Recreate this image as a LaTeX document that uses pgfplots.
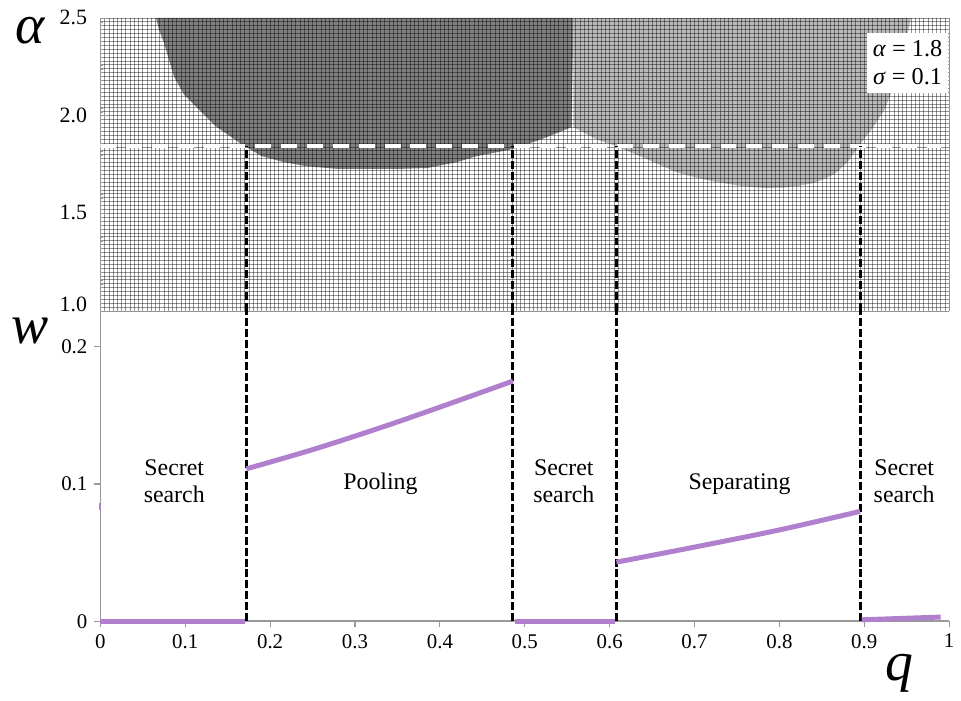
\documentclass[border=0pt]{standalone}
\usepackage{fontspec}
\setmainfont{Liberation Serif}
\usepackage{pgfplots}
\pgfplotsset{compat=1.18}
\definecolor{wline}{RGB}{176,128,206}
\definecolor{darkreg}{RGB}{128,128,128}
\definecolor{lightreg}{RGB}{186,186,186}
\begin{document}
\begin{tikzpicture}[x=1pt,y=1pt]
% ---------------- top panel ----------------
\begin{axis}[
  at={(50.5pt,196pt)}, anchor=south west,
  width=427pt, height=147.5pt, scale only axis,
  xmin=0, xmax=1, ymin=1, ymax=2.5,
  set layers,
  xtick={0,0.1,0.2,0.3,0.4,0.5,0.6,0.7,0.8,0.9,1}, xticklabels={},
  minor x tick num=19,
  ytick={1,1.5,2,2.5}, minor y tick num=24,
  yticklabels={},
  grid=both,
  major grid style={black, opacity=0.42, line width=0.35pt},
  minor grid style={black, opacity=0.42, line width=0.35pt},
  axis x line*=bottom, axis y line*=left,
  x axis line style={draw=none},
  y axis line style={black!40, line width=0.8pt},
  xtick style={draw=none},
  ytick style={black!40},
  major tick length=2.5pt, minor tick length=1.2pt,
  clip=true,
]
\addplot[on layer=axis background, fill=darkreg, draw=none] coordinates {
 (0.0656,2.5) (0.0691,2.4387) (0.0749,2.3727) (0.0808,2.2862) (0.0867,2.1998)
 (0.0984,2.1083) (0.1159,2.0320) (0.1358,1.9456) (0.1628,1.8643) (0.1897,1.7931)
 (0.2155,1.7626) (0.2412,1.7423) (0.2799,1.7270) (0.3501,1.7270) (0.3852,1.7321)
 (0.4204,1.7626) (0.4438,1.7931) (0.4859,1.8287) (0.5199,1.8795) (0.5550,1.9405)
 (0.5574,2.5)} -- cycle;
\addplot[on layer=axis background, fill=lightreg, draw=none] coordinates {
 (0.5574,2.5) (0.5574,1.9405) (0.584,1.880) (0.608,1.844) (0.645,1.775)
 (0.678,1.712) (0.700,1.685) (0.725,1.661) (0.755,1.640) (0.783,1.630)
 (0.805,1.632) (0.822,1.640) (0.840,1.655) (0.855,1.680) (0.865,1.702)
 (0.880,1.760) (0.897,1.864) (0.912,1.950) (0.924,2.032) (0.932,2.118)
 (0.940,2.220) (0.947,2.337) (0.955,2.5)} -- cycle;
\addplot[white, line width=2pt, dash pattern=on 8pt off 5pt] coordinates {(0,1.847) (0.99,1.847)};
\addplot[black, line width=1.5pt, dash pattern=on 4pt off 1.5pt] coordinates {(0.172,1) (0.172,1.847)};
\addplot[black, line width=1.5pt, dash pattern=on 4pt off 1.5pt] coordinates {(0.486,1) (0.486,1.847)};
\addplot[black, line width=1.5pt, dash pattern=on 4pt off 1.5pt] coordinates {(0.608,1) (0.608,1.847)};
\addplot[black, line width=1.5pt, dash pattern=on 4pt off 1.5pt] coordinates {(0.895,1) (0.895,1.847)};
\node[fill=white, anchor=north east, align=center, inner sep=1.5pt,
  minimum width=41pt, minimum height=30pt,
  font=\fontsize{12.2}{14}\selectfont] at (axis cs:0.9995,2.424)
  {\textit{α} = 1.8\\\textit{σ} = 0.1};
\end{axis}
% top-panel tick labels
\begin{scope}[font=\fontsize{11}{12}\selectfont]
\node[anchor=east, inner sep=0pt] at (44,343.5) {2.5};
\node[anchor=east, inner sep=0pt] at (44,294.5) {2.0};
\node[anchor=east, inner sep=0pt] at (44,245.5) {1.5};
\node[anchor=east, inner sep=0pt] at (44,199.5) {1.0};
\end{scope}
% ---------------- bottom panel ----------------
\begin{axis}[
  at={(50.5pt,40pt)}, anchor=south west,
  width=427pt, height=156pt, scale only axis,
  xmin=0, xmax=1, ymin=0, ymax=0.226,
  axis x line*=bottom, axis y line*=left,
  axis line style={black!40, line width=0.8pt},
  xtick={0,0.1,0.2,0.3,0.4,0.5,0.6,0.7,0.8,0.9,1},
  ytick={0,0.1,0.2},
  tick align=outside, major tick length=3pt,
  tick style={black!40, line width=0.6pt},
  ticklabel style={font=\fontsize{10.5}{12}\selectfont},
  /pgf/number format/assume math mode=true,
  clip=false,
]
\addplot[black, line width=1.5pt, dash pattern=on 4pt off 1.5pt] coordinates {(0.172,0) (0.172,0.226)};
\addplot[black, line width=1.5pt, dash pattern=on 4pt off 1.5pt] coordinates {(0.486,0) (0.486,0.226)};
\addplot[black, line width=1.5pt, dash pattern=on 4pt off 1.5pt] coordinates {(0.608,0) (0.608,0.226)};
\addplot[black, line width=1.5pt, dash pattern=on 4pt off 1.5pt] coordinates {(0.895,0) (0.895,0.226)};
\addplot[wline, line width=2.5pt] coordinates {(0,0) (0.170,0)};
\addplot[wline, line width=2.5pt, smooth] coordinates {(0.172,0.111) (0.25,0.125) (0.33,0.141) (0.40,0.156) (0.486,0.175)};
\addplot[wline, line width=2.5pt] coordinates {(0.488,0) (0.606,0)};
\addplot[wline, line width=2.5pt, smooth] coordinates {(0.608,0.043) (0.70,0.054) (0.80,0.0665) (0.895,0.080)};
\addplot[wline, line width=2.5pt] coordinates {(0.897,0.001) (0.99,0.003)};
\addplot[wline, line width=1pt] coordinates {(0,0.081) (0,0.086)};
\begin{scope}[font=\fontsize{12}{14}\selectfont]
\node[align=center] at (axis cs:0.087,0.102) {Secret\\search};
\node at (axis cs:0.330,0.100) {Pooling};
\node[align=center] at (axis cs:0.546,0.102) {Secret\\search};
\node at (axis cs:0.753,0.100) {Separating};
\node[align=center] at (axis cs:0.947,0.102) {Secret\\search};
\end{scope}
\end{axis}
\node[font=\fontsize{28}{30}\selectfont\itshape, inner sep=0pt] at (15,337) {α};
\node[font=\fontsize{28}{30}\selectfont\itshape, inner sep=0pt] at (15,186) {w};
\node[font=\fontsize{28}{30}\selectfont\itshape, inner sep=0pt] at (452.5,14) {q};
\path (0,0) rectangle (480.5,352.5);
\end{tikzpicture}
\end{document}
